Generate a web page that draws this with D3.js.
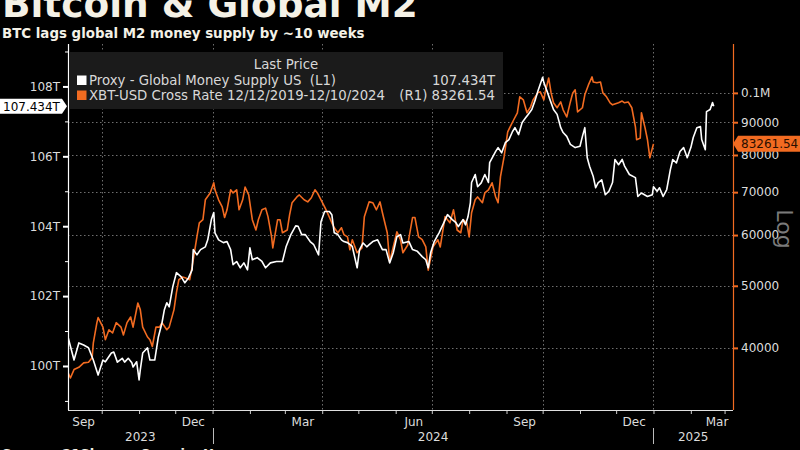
<!DOCTYPE html>
<html><head><meta charset="utf-8">
<script src="https://cdn.jsdelivr.net/npm/d3@7"></script>
<style>html,body{margin:0;padding:0;background:#000;overflow:hidden}svg{display:block}</style>
</head><body><svg id="c" width="800" height="450"></svg>
<script>
// ---- DATA ----
const m2Dates = ["2023-09-03","2023-09-08","2023-09-12","2023-09-16","2023-09-20","2023-09-24","2023-09-28","2023-10-02","2023-10-04","2023-10-09","2023-10-11","2023-10-14","2023-10-18","2023-10-20","2023-10-23","2023-10-26","2023-10-27","2023-10-30","2023-11-01","2023-11-02","2023-11-04","2023-11-08","2023-11-10","2023-11-14","2023-11-17","2023-11-20","2023-11-22","2023-11-24","2023-11-26","2023-11-29","2023-12-02","2023-12-06","2023-12-09","2023-12-12","2023-12-15","2023-12-16","2023-12-19","2023-12-22","2023-12-26","2023-12-28","2023-12-31","2024-01-02","2024-01-03","2024-01-06","2024-01-10","2024-01-13","2024-01-16","2024-01-18","2024-01-21","2024-01-24","2024-01-27","2024-01-30","2024-02-01","2024-02-03","2024-02-07","2024-02-11","2024-02-14","2024-02-18","2024-02-23","2024-02-28","2024-03-02","2024-03-06","2024-03-10","2024-03-12","2024-03-15","2024-03-18","2024-03-22","2024-03-25","2024-03-29","2024-03-31","2024-04-03","2024-04-07","2024-04-09","2024-04-11","2024-04-14","2024-04-17","2024-04-19","2024-04-22","2024-04-26","2024-04-30","2024-05-02","2024-05-05","2024-05-08","2024-05-10","2024-05-13","2024-05-17","2024-05-21","2024-05-24","2024-05-27","2024-05-30","2024-06-02","2024-06-05","2024-06-07","2024-06-12","2024-06-15","2024-06-19","2024-06-23","2024-06-26","2024-06-28","2024-06-30","2024-07-03","2024-07-07","2024-07-11","2024-07-14","2024-07-18","2024-07-21","2024-07-23","2024-07-27","2024-07-29","2024-07-31","2024-08-02","2024-08-03","2024-08-06","2024-08-08","2024-08-11","2024-08-14","2024-08-17","2024-08-18","2024-08-23","2024-08-25","2024-08-28","2024-08-31","2024-09-03","2024-09-06","2024-09-08","2024-09-11","2024-09-14","2024-09-17","2024-09-19","2024-09-22","2024-09-25","2024-09-27","2024-10-01","2024-10-02","2024-10-05","2024-10-07","2024-10-10","2024-10-13","2024-10-16","2024-10-18","2024-10-21","2024-10-24","2024-10-28","2024-11-01","2024-11-03","2024-11-05","2024-11-07","2024-11-09","2024-11-12","2024-11-14","2024-11-16","2024-11-19","2024-11-22","2024-11-25","2024-11-28","2024-11-30","2024-12-03","2024-12-06","2024-12-08","2024-12-12","2024-12-17","2024-12-19","2024-12-22","2024-12-27","2024-12-31","2025-01-01","2025-01-04","2025-01-06","2025-01-09","2025-01-12","2025-01-15","2025-01-17","2025-01-20","2025-01-23","2025-01-26","2025-01-29","2025-02-01","2025-02-03","2025-02-06","2025-02-09","2025-02-10","2025-02-13","2025-02-14","2025-02-17","2025-02-19","2025-02-20"];
const m2Values = [100.83,100.17,100.66,100.60,100.52,100.17,99.74,100.17,100.12,100.37,100.40,100.11,100.22,100.11,100.22,100.09,99.97,100.12,99.60,99.89,100.37,100.52,100.17,100.17,100.83,101.23,101.61,101.81,101.69,102.27,102.67,102.55,102.38,102.52,102.75,103.33,103.18,103.33,103.41,103.61,104.19,104.39,103.81,103.61,103.53,103.56,103.33,102.90,102.99,102.81,102.95,102.75,103.38,103.04,103.10,102.99,102.81,102.95,102.99,102.99,103.41,103.76,104.01,104.00,103.76,103.76,103.56,103.47,103.18,104.13,104.42,104.42,104.33,103.81,103.76,103.61,103.56,103.53,103.42,102.81,103.33,103.52,103.41,103.47,103.56,103.61,103.33,103.33,102.95,103.24,103.70,103.76,103.52,103.56,103.33,103.28,103.13,103.04,102.81,103.24,103.56,103.81,104.10,104.33,104.19,104.10,103.99,104.19,104.04,104.27,104.67,105.25,105.48,105.13,105.24,105.48,105.25,105.82,106.14,106.25,106.10,106.39,106.48,106.71,106.82,106.62,106.97,107.11,107.20,107.34,107.63,107.86,108.26,108.11,107.83,107.63,107.34,107.20,106.82,106.68,106.57,106.34,106.25,106.29,106.57,106.82,105.96,105.71,105.42,105.10,105.24,105.33,104.90,105.00,105.25,105.91,105.76,105.91,105.72,105.48,105.39,104.85,104.95,104.85,104.90,105.13,105.00,105.10,104.85,105.05,105.62,105.91,105.81,106.14,106.25,105.96,106.25,106.54,106.82,106.85,106.48,106.19,107.28,107.34,107.54,107.434];

const btcDates = ["2023-09-03","2023-09-05","2023-09-08","2023-09-12","2023-09-16","2023-09-20","2023-09-23","2023-09-24","2023-09-27","2023-09-28","2023-10-02","2023-10-04","2023-10-07","2023-10-10","2023-10-13","2023-10-17","2023-10-19","2023-10-22","2023-10-25","2023-10-27","2023-10-31","2023-11-02","2023-11-04","2023-11-08","2023-11-10","2023-11-12","2023-11-15","2023-11-18","2023-11-20","2023-11-24","2023-11-26","2023-11-30","2023-12-02","2023-12-04","2023-12-07","2023-12-10","2023-12-13","2023-12-15","2023-12-19","2023-12-21","2023-12-24","2023-12-26","2023-12-30","2024-01-02","2024-01-03","2024-01-06","2024-01-09","2024-01-11","2024-01-13","2024-01-16","2024-01-18","2024-01-21","2024-01-23","2024-01-26","2024-01-28","2024-01-31","2024-02-03","2024-02-06","2024-02-08","2024-02-11","2024-02-14","2024-02-16","2024-02-19","2024-02-20","2024-02-24","2024-02-26","2024-02-28","2024-03-03","2024-03-05","2024-03-07","2024-03-11","2024-03-13","2024-03-17","2024-03-20","2024-03-23","2024-03-26","2024-03-28","2024-03-31","2024-04-03","2024-04-05","2024-04-09","2024-04-11","2024-04-14","2024-04-17","2024-04-19","2024-04-22","2024-04-24","2024-04-26","2024-04-30","2024-05-04","2024-05-06","2024-05-10","2024-05-13","2024-05-16","2024-05-19","2024-05-21","2024-05-25","2024-05-27","2024-05-30","2024-06-02","2024-06-05","2024-06-07","2024-06-11","2024-06-15","2024-06-17","2024-06-20","2024-06-23","2024-06-26","2024-06-28","2024-07-02","2024-07-06","2024-07-08","2024-07-12","2024-07-16","2024-07-19","2024-07-22","2024-07-25","2024-07-27","2024-07-30","2024-08-01","2024-08-03","2024-08-06","2024-08-08","2024-08-12","2024-08-14","2024-08-17","2024-08-20","2024-08-23","2024-08-25","2024-08-27","2024-08-30","2024-09-02","2024-09-04","2024-09-07","2024-09-10","2024-09-12","2024-09-15","2024-09-18","2024-09-21","2024-09-23","2024-09-27","2024-09-29","2024-10-02","2024-10-03","2024-10-06","2024-10-08","2024-10-10","2024-10-13","2024-10-16","2024-10-18","2024-10-21","2024-10-24","2024-10-26","2024-10-28","2024-10-30","2024-11-03","2024-11-05","2024-11-08","2024-11-11","2024-11-12","2024-11-15","2024-11-18","2024-11-20","2024-11-23","2024-11-26","2024-11-28","2024-12-03","2024-12-06","2024-12-08","2024-12-11","2024-12-14","2024-12-17","2024-12-18","2024-12-21","2024-12-22","2024-12-25","2024-12-27","2024-12-29","2025-01-01"];
const btcValues = [36600,35900,37000,37300,37900,38000,38600,40700,43800,44600,43100,41200,42700,42200,43800,43100,41900,43800,44700,43100,47000,45900,43100,41600,41200,40200,43100,43100,43800,42700,43100,45900,48800,51100,51600,51400,51100,53500,59600,62700,63400,68100,69800,72400,70600,68100,66400,63900,65700,70600,69800,70600,65700,68100,71300,69300,63400,61100,63400,65700,66100,64100,59600,57300,63400,63400,60500,61100,64600,67400,68800,69300,68100,67600,68600,70600,69800,68100,66400,65200,62700,61600,60500,61600,60100,59600,56900,59000,56300,57300,64100,67600,67400,65700,67600,65000,60500,54500,57500,60700,59000,56300,57900,63900,63900,59600,59000,57500,52900,57500,59000,57500,64100,62700,65700,61100,60500,63400,62700,59600,65000,68100,68800,67400,69800,70600,72400,68800,67400,74000,79500,86900,88500,90800,93100,98600,97500,93100,95100,97500,100000,100400,97500,100000,105500,100000,96500,94800,96800,94100,91700,96800,100000,101100,93400,94800,99300,102900,105900,104000,103700,104000,100000,98600,96500,95800,96500,97100,96500,96800,94800,88500,84500,85000,93100,88200,84500,79200,83261.54];

const leftTicks = [100, 102, 104, 106, 108];
const leftMinorTicks = [99, 101, 103, 105, 107, 109];
const rightTicks = [40000, 50000, 60000, 70000, 80000, 90000, 100000];
const monthLabels = ["Sep", "Dec", "Mar", "Jun", "Sep", "Dec", "Mar"];
const monthLabelDates = ["2023-09-16", "2023-12-16", "2024-03-16", "2024-06-16", "2024-09-16", "2024-12-16", "2025-03-16"];
const yearLabels = ["2023", "2024", "2025"];
const yearStarts = ["2023-09-03", "2024-01-01", "2025-01-01"];
const gridDates = ["2023-10-01", "2024-01-01", "2024-04-01", "2024-07-01", "2024-10-01", "2025-01-01"];
const seriesNames = ["Proxy - Global Money Supply US  (L1)", "XBT-USD Cross Rate 12/12/2019-12/10/2024"];
const lastM2 = 107.434, lastBtc = 83261.54;
const lastLabels = ["107.434T", "(R1) 83261.54"];

// ---- CHART ----
const svg = d3.select("#c");
const FONT = "DejaVu Sans";
const L = 68, R = 733, T = 44, B = 410;
const ORANGE = "#f26b21";
const parse = d3.utcParse("%Y-%m-%d");

svg.append("rect").attr("width", 800).attr("height", 450).attr("fill", "#000");

const x = d3.scaleUtc().domain([parse("2023-09-03"), parse("2025-03-08")]).range([L, R]);
const yL = d3.scaleLinear().domain([98.74, 109.1]).range([B, 48]);
const yR = d3.scaleLog().domain([32000, 117500]).range([B, 48]);

function fitText(sel, target) {
  const n = sel.node(); const len = n.getComputedTextLength();
  const fs = parseFloat(sel.attr("font-size"));
  sel.attr("font-size", (fs * target / len).toFixed(2));
}
const title = svg.append("text").attr("x", 2).attr("y", 16.5).attr("font-family", FONT)
  .attr("font-weight", "bold").attr("font-size", 36).attr("fill", "#f4f1e6").text("Bitcoin & Global M2");
fitText(title, 416);
const sub = svg.append("text").attr("x", 2).attr("y", 37.5).attr("font-family", FONT)
  .attr("font-weight", "bold").attr("font-size", 13).attr("fill", "#f4f1e6").text("BTC lags global M2 money supply by ~10 weeks");
fitText(sub, 363);
svg.append("text").attr("x", 2).attr("y", 458).attr("font-family", FONT)
  .attr("font-weight", "bold").attr("font-size", 13).attr("fill", "#f4f1e6").text("Source: 21Shares, CrossingX");

// gridlines
const grid = svg.append("g").attr("stroke", "#6e6e6e").attr("stroke-width", 1).attr("stroke-dasharray", "1.5,2.5");
grid.selectAll("line.h").data(rightTicks).join("line")
  .attr("x1", L).attr("x2", R).attr("y1", d => Math.round(yR(d)) + 0.5).attr("y2", d => Math.round(yR(d)) + 0.5);
grid.selectAll("line.v").data(gridDates).join("line")
  .attr("y1", T).attr("y2", B).attr("x1", d => Math.round(x(parse(d))) + 0.5).attr("x2", d => Math.round(x(parse(d))) + 0.5);

// lines
svg.append("clipPath").attr("id", "clip").append("rect").attr("x", L).attr("y", T).attr("width", R - L).attr("height", B - T);
const btc = btcDates.map((d, i) => ({ date: parse(d), v: btcValues[i] }));
const m2 = m2Dates.map((d, i) => ({ date: parse(d), v: m2Values[i] }));
const lineR = d3.line().x(d => x(d.date)).y(d => yR(d.v));
const lineL = d3.line().x(d => x(d.date)).y(d => yL(d.v));
const plot = svg.append("g").attr("clip-path", "url(#clip)");
plot.append("path").datum(btc).attr("d", lineR).attr("fill", "none").attr("stroke", ORANGE)
  .attr("stroke-width", 1.6).attr("stroke-linejoin", "round");
plot.append("path").datum(m2).attr("d", lineL).attr("fill", "none").attr("stroke", "#ffffff")
  .attr("stroke-width", 1.6).attr("stroke-linejoin", "round");

// axes
function styleAxis(g, col) {
  g.selectAll("text").attr("font-family", FONT).attr("font-size", 12).attr("fill", "#dcdcdc");
  g.selectAll(".tick line").attr("stroke", col);
  g.select(".domain").remove();
}
const gl = svg.append("g").attr("transform", `translate(${L},0)`)
  .call(d3.axisLeft(yL).tickValues(leftTicks).tickFormat(d => d + "T").tickSize(5).tickPadding(3));
styleAxis(gl, "#ffffff");
gl.selectAll(".tick line").attr("stroke-width", 2);
const glm = svg.append("g").attr("transform", `translate(${L},0)`)
  .call(d3.axisLeft(yL).tickValues(leftMinorTicks).tickFormat("").tickSize(3));
styleAxis(glm, "#ffffff");
svg.append("line").attr("x1", L + 0.5).attr("x2", L + 0.5).attr("y1", T).attr("y2", B).attr("stroke", "#fff").attr("stroke-width", 1.2);

const gr = svg.append("g").attr("transform", `translate(${R},0)`)
  .call(d3.axisRight(yR).tickValues(rightTicks).tickFormat(d => d === 100000 ? "0.1M" : d3.format("d")(d)).tickSize(5).tickPadding(3));
styleAxis(gr, ORANGE);
gr.selectAll(".tick line").attr("stroke-width", 2);
svg.append("line").attr("x1", R + 0.5).attr("x2", R + 0.5).attr("y1", T).attr("y2", B).attr("stroke", ORANGE).attr("stroke-width", 1.2);

const gb = svg.append("g").attr("transform", `translate(0,${B})`)
  .call(d3.axisBottom(x).ticks(d3.utcMonth.every(1)).tickFormat("").tickSize(4));
styleAxis(gb, "#cccccc");
svg.append("line").attr("x1", L).attr("x2", R).attr("y1", B + 0.5).attr("y2", B + 0.5).attr("stroke", "#e0e0e0").attr("stroke-width", 1.2);

// month labels
svg.append("g").selectAll("text").data(monthLabels).join("text")
  .attr("font-family", FONT).attr("font-size", 12).attr("fill", "#dcdcdc").attr("text-anchor", "middle")
  .attr("y", 426).text(d => d)
  .attr("x", (d, i) => Math.min(x(parse(monthLabelDates[i])), R - 16));
// year labels
const yearEnds = yearStarts.slice(1).map(parse).concat([x.domain()[1]]);
svg.append("g").selectAll("text").data(yearLabels).join("text")
  .attr("font-family", FONT).attr("font-size", 12).attr("fill", "#dcdcdc").attr("text-anchor", "middle")
  .attr("y", 441).text(d => d)
  .attr("x", (d, i) => (x(parse(yearStarts[i])) + x(yearEnds[i])) / 2);
svg.append("g").selectAll("line").data(yearStarts.slice(1)).join("line")
  .attr("x1", d => Math.round(x(parse(d))) + 0.5).attr("x2", d => Math.round(x(parse(d))) + 0.5)
  .attr("y1", 428).attr("y2", 444).attr("stroke", "#bbbbbb");

// legend
const lg = svg.append("g");
lg.append("rect").attr("x", L + 1).attr("y", 52).attr("width", 434).attr("height", 57).attr("fill", "#1b1b1b");
lg.append("text").attr("x", 286).attr("y", 69).attr("text-anchor", "middle").attr("font-family", FONT)
  .attr("font-size", 13.3).attr("fill", "#d8d8d8").text("Last Price");
const rowsY = [85, 100];
const rowCols = ["#ffffff", ORANGE];
rowsY.forEach((ry, i) => {
  lg.append("rect").attr("x", 77).attr("y", ry - 9.5).attr("width", 9.5).attr("height", 9.5).attr("fill", rowCols[i]);
  lg.append("text").attr("x", 89).attr("y", ry).attr("font-family", FONT).attr("font-size", 13.3)
    .attr("fill", "#d8d8d8").style("white-space", "pre").text(seriesNames[i]);
  lg.append("text").attr("x", 495).attr("y", ry).attr("text-anchor", "end").attr("font-family", FONT)
    .attr("font-size", 13.3).attr("fill", "#d8d8d8").text(lastLabels[i]);
});

// last value tags
const yv1 = yL(lastM2);
svg.append("path").attr("d", `M0,${yv1 - 7.5}H62L67,${yv1}L62,${yv1 + 7.5}H0Z`).attr("fill", "#ffffff");
svg.append("text").attr("x", 3).attr("y", yv1 + 4.5).attr("font-family", FONT).attr("font-size", 12)
  .attr("fill", "#000").text(lastLabels[0]);
const yv2 = yR(lastBtc);
svg.append("path").attr("d", `M${R},${yv2}L738,${yv2 - 8}H800V${yv2 + 8}H738Z`).attr("fill", ORANGE);
svg.append("text").attr("x", 741).attr("y", yv2 + 4.5).attr("font-family", FONT).attr("font-size", 12)
  .attr("fill", "#2a0f00").text(d3.format(".2f")(lastBtc));

// Log label
svg.append("text").attr("transform", "translate(777,229) rotate(90)").attr("text-anchor", "middle")
  .attr("font-family", FONT).attr("font-size", 22).attr("fill", "#7a7a7a").text("Log");
</script>
</body></html>
